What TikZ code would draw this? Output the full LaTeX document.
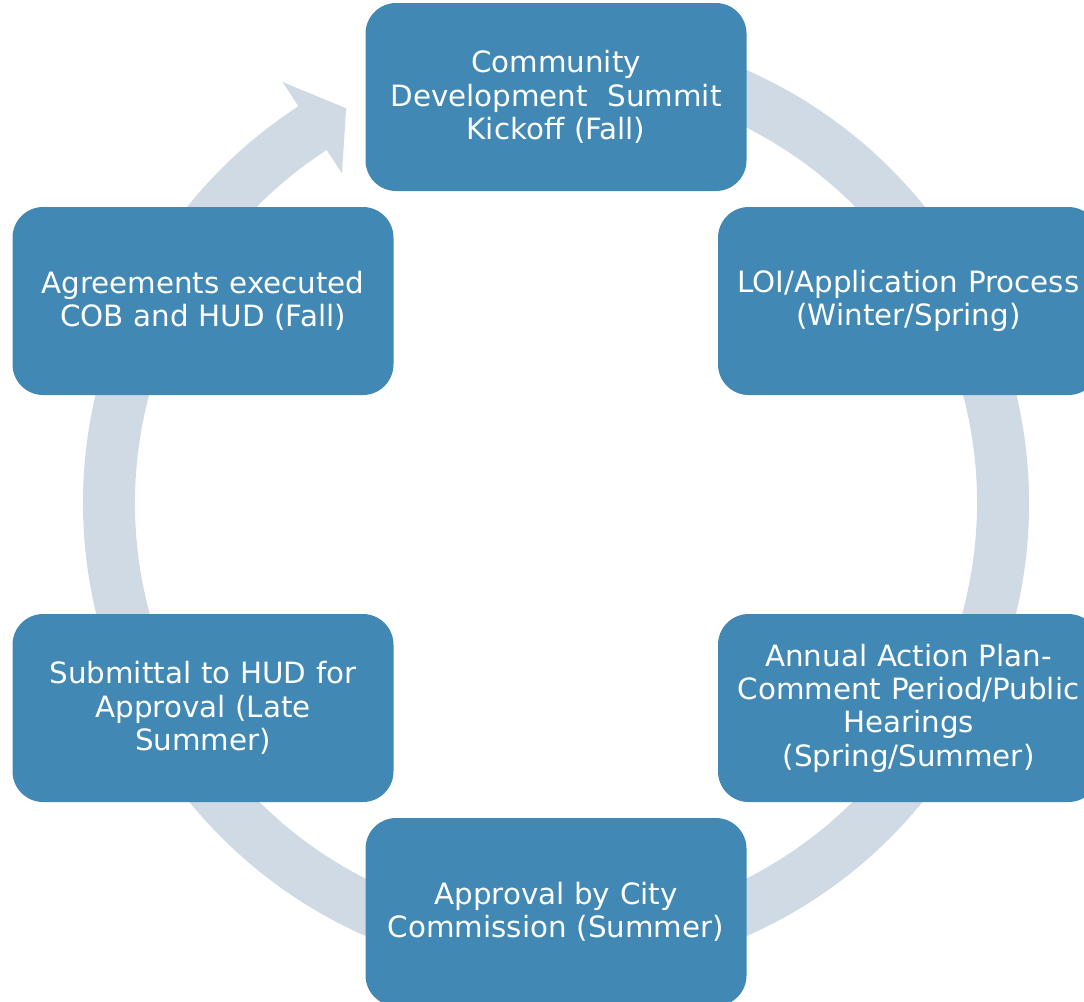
\documentclass[tikz,border=0pt]{standalone}
\usepackage{fontspec}
\setmainfont{DejaVu Sans}
\definecolor{boxblue}{RGB}{65,137,180}
\definecolor{ringgray}{RGB}{208,218,229}
\tikzset{
  stage/.style={draw=none, fill=boxblue, rounded corners=23pt,
    minimum width=285.75pt, minimum height=141pt, text width=282pt,
    align=center, text=white, inner sep=0pt,
    font=\fontsize{22}{25}\selectfont},
  ring/.style={fill=ringgray, draw=none}
}
\begin{document}
\begin{tikzpicture}[x=0.75pt,y=0.75pt,yscale=-1,xscale=1]
        \useasboundingbox (0,0) rectangle (1084,1001);
        \clip (0,0) rectangle (1084,1001);

        %Shape: Circular Arrow
        \begin{scope}[shift={(556,503)}]
        \fill[ring] (-100:473) arc[start angle=-100, end angle=237, radius=473]
            -- (237:502) -- (242:447) -- (237:393) -- (237:421)
            arc[start angle=237, end angle=-100, radius=421] -- cycle;
        \end{scope}

        % Stage Nodes
        \node[stage] (summit) at (556,97) {Community\\Development\ \ Summit\\Kickoff (Fall)};
        \node[stage] (loi) at (908.5,301) {LOI/Application Process\\(Winter/Spring)};
        \node[stage] (actionplan) at (908.5,708) {Annual Action Plan-\\Comment Period/Public\\Hearings\\(Spring/Summer)};
        \node[stage] (approval) at (556,912) {Approval by City\\Commission (Summer)};
        \node[stage] (submittal) at (203,708) {Submittal to HUD for\\Approval (Late\\Summer)};
        \node[stage] (agreements) at (203,301) {Agreements executed\\COB and HUD (Fall)};

\end{tikzpicture}
\end{document}
